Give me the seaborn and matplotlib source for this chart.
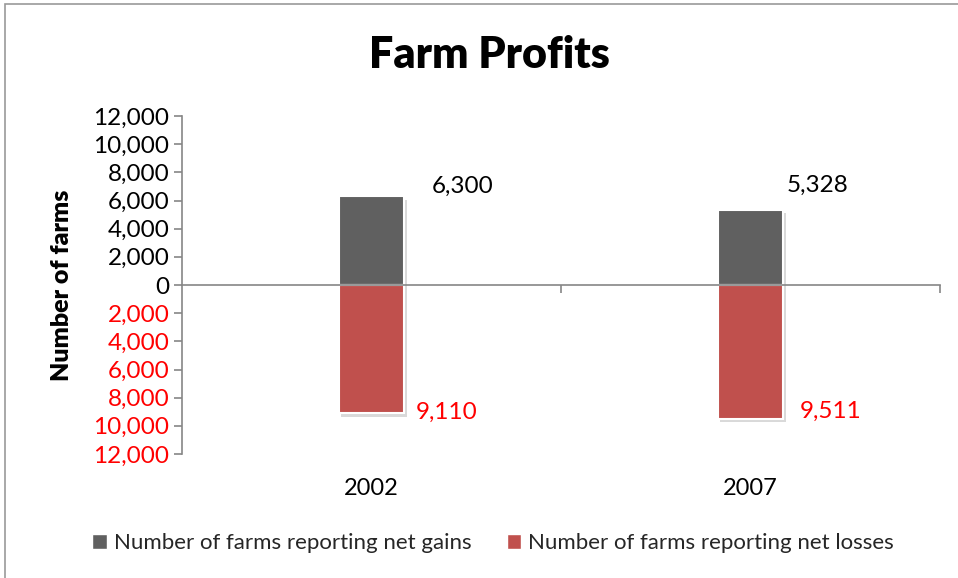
import matplotlib
matplotlib.use("Agg")
import matplotlib.pyplot as plt
import matplotlib.patheffects as pe
from matplotlib.patches import Rectangle, Patch
import numpy as np
import pandas as pd
import seaborn as sns

# ---- data ----
years = ["2002", "2007"]
gains = [6300, 5328]
losses = [9110, 9511]
series_names = ["Number of farms reporting net gains",
                "Number of farms reporting net losses"]
yticks = list(range(-12000, 12001, 2000))

# ---- style ----
sns.set_theme(style="white")
plt.rcParams["font.family"] = ["Lato", "DejaVu Sans"]

GAIN_C = "#606060"
LOSS_C = "#C0504D"
AXIS_C = "#868686"

df = pd.DataFrame({
    "year": years + years,
    "value": gains + [-v for v in losses],
    "series": [series_names[0]] * len(years) + [series_names[1]] * len(years),
})

fig = plt.figure(figsize=(9.58, 5.78), dpi=100)
ax = fig.add_axes([182 / 958, 1 - 454 / 578, 758 / 958, 338 / 578])

sns.barplot(data=df, x="year", y="value", hue="series", dodge=False,
            palette=[GAIN_C, LOSS_C], width=0.174, saturation=1,
            edgecolor="white", linewidth=1.5, ax=ax, legend=True)

for p in ax.patches:
    p.set_path_effects([pe.SimplePatchShadow(offset=(1.5, -2.5), alpha=0.22,
                                             shadow_rgbFace="#555555"),
                        pe.Normal()])

ax.set_xlim(-0.5, len(years) - 0.5)
ax.set_ylim(-12000, 12000)

# spines
for s in ["top", "right"]:
    ax.spines[s].set_visible(False)
ax.spines["left"].set_color(AXIS_C)
ax.spines["left"].set_linewidth(1.2)
ax.spines["bottom"].set_position(("data", 0))
ax.spines["bottom"].set_color(AXIS_C)
ax.spines["bottom"].set_linewidth(1.2)

# y ticks
ax.set_yticks(yticks)
ax.set_yticklabels([f"{abs(v):,}" for v in yticks])
for lab, v in zip(ax.get_yticklabels(), yticks):
    lab.set_color("#FF0000" if v < 0 else "black")
ax.tick_params(axis="y", which="major", direction="out", length=6,
               color=AXIS_C, width=1.2, labelsize=17.5, pad=3, left=True)

# x ticks
ax.set_xlabel("")
ax.tick_params(axis="x", which="major", length=0, pad=139, labelsize=17,
               labelcolor="black", bottom=True)
ax.set_xticks(np.arange(0.5, len(years), 1.0), minor=True)
ax.tick_params(axis="x", which="minor", direction="out", length=6,
               color=AXIS_C, width=1.2, bottom=True)

ax.set_ylabel("Number of farms", fontsize=18, fontweight="heavy", color="black")
ax.yaxis.set_label_coords((73 - 182) / 758, 0.5)

# data labels (placement)
gain_pos = [(0.16, 7030), (1.096, 7100)]
loss_pos = [(0.117, -9018), (1.131, -8947)]
for v, (x, y) in zip(gains, gain_pos):
    ax.text(x, y, f"{v:,}", ha="left", va="center", fontsize=17.5, color="black")
for v, (x, y) in zip(losses, loss_pos):
    ax.text(x, y, f"{v:,}", ha="left", va="center", fontsize=17.5, color="#FF0000")

# title
fig.text(489 / 958, 1 - 55 / 578, "Farm Profits", ha="center", va="center",
         fontsize=31, fontweight="heavy", color="black")

# legend
if ax.get_legend() is not None:
    ax.get_legend().remove()
handles = [Patch(facecolor=GAIN_C), Patch(facecolor=LOSS_C)]
fig.legend(handles, series_names, loc="center",
           bbox_to_anchor=(493 / 958, 1 - 543 / 578), ncol=2, frameon=False,
           handlelength=0.65, handleheight=0.65, handletextpad=0.3,
           columnspacing=1.6, fontsize=16)

# outer chart border
fig.patches.append(Rectangle((5 / 958, -0.1), 2, 1 - 4 / 578 + 0.1,
                             transform=fig.transFigure, fill=False,
                             edgecolor="#999999", linewidth=1.2))

fig.savefig("out.png", dpi=100)
